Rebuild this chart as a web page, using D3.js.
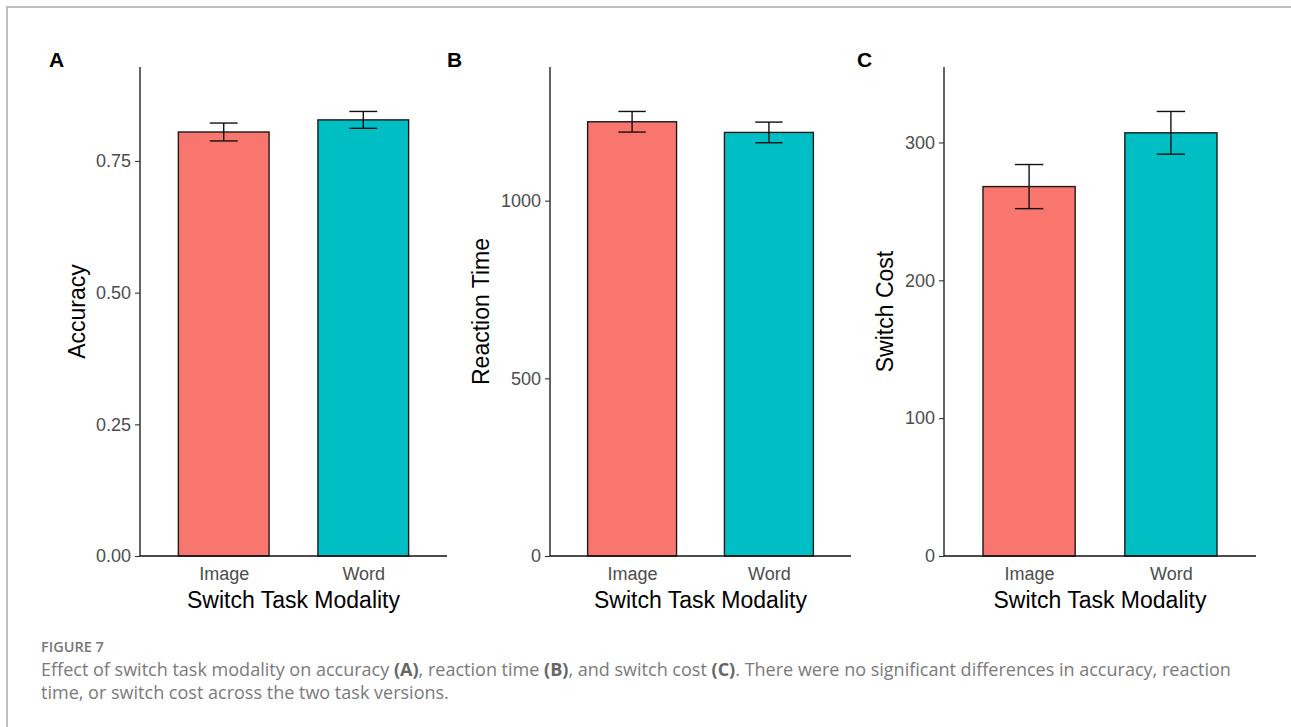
<!DOCTYPE html>
<html>
<head>
<meta charset="utf-8">
<script src="https://cdn.jsdelivr.net/npm/d3@7"></script>
<style>
  html, body { margin: 0; padding: 0; background: #fff; }
  svg { display: block; }
</style>
</head>
<body>
<svg id="fig" width="1291" height="727"></svg>
<script>
// Groups on the x axis
const categories = ["Image", "Word"];
const barColors = ["#F8766D", "#00BFC4"];

// Panel A: accuracy (mean and standard error)
const accuracyMean = [0.805, 0.828];
const accuracySE = [0.017, 0.016];
const accuracyTicks = [0, 0.25, 0.5, 0.75];

// Panel B: reaction time in ms
const rtMean = [1222, 1192];
const rtSE = [29, 29];
const rtTicks = [0, 500, 1000];

// Panel C: switch cost in ms
const costMean = [268, 307];
const costSE = [16, 15.5];
const costTicks = [0, 100, 200, 300];

const svg = d3.select("#fig");
const chartFont = "'Liberation Sans', Arial, sans-serif";
const captionFont = "'Open Sans', 'Noto Sans', sans-serif";

// frame around the figure
svg.append("path")
  .attr("d", "M7,727 V7 H1291")
  .attr("fill", "none")
  .attr("stroke", "#aaa")
  .attr("stroke-width", 1.5);

const panels = [
  { letter: "A", lx: 49, x0: 140, x1: 447, titleX: 77, yTitle: "Accuracy",
    mean: accuracyMean, se: accuracySE, ticks: accuracyTicks, fmt: d3.format(".2f") },
  { letter: "B", lx: 447, x0: 550, x1: 851, titleX: 481, yTitle: "Reaction Time",
    mean: rtMean, se: rtSE, ticks: rtTicks, fmt: d3.format("d") },
  { letter: "C", lx: 857, x0: 944, x1: 1256, titleX: 885, yTitle: "Switch Cost",
    mean: costMean, se: costSE, ticks: costTicks, fmt: d3.format("d") }
];

const yTop = 67, yBottom = 556;

panels.forEach(p => {
  const g = svg.append("g");
  const maxVal = d3.max(p.mean.map((m, i) => m + p.se[i]));
  const y = d3.scaleLinear().domain([0, maxVal * 1.1]).range([yBottom, yTop]);
  const x = d3.scalePoint().domain(categories).range([p.x0, p.x1]).padding(0.6);
  const step = x.step();
  const barW = step * 0.65;
  const whisk = step * 0.2;

  // bars
  g.selectAll("rect.bar").data(categories).join("rect")
    .attr("class", "bar")
    .attr("x", d => x(d) - barW / 2)
    .attr("width", barW)
    .attr("y", (d, i) => y(p.mean[i]))
    .attr("height", (d, i) => y(0) - y(p.mean[i]))
    .attr("fill", (d, i) => barColors[i])
    .attr("stroke", "#1a1a1a")
    .attr("stroke-width", 1.4);

  // error bars
  const eb = g.selectAll("g.err").data(categories).join("g").attr("class", "err")
    .attr("stroke", "#111").attr("stroke-width", 1.4).attr("fill", "none");
  eb.append("line")
    .attr("x1", d => x(d)).attr("x2", d => x(d))
    .attr("y1", (d, i) => y(p.mean[i] + p.se[i]))
    .attr("y2", (d, i) => y(p.mean[i] - p.se[i]));
  eb.append("line")
    .attr("x1", d => x(d) - whisk / 2).attr("x2", d => x(d) + whisk / 2)
    .attr("y1", (d, i) => y(p.mean[i] + p.se[i]))
    .attr("y2", (d, i) => y(p.mean[i] + p.se[i]));
  eb.append("line")
    .attr("x1", d => x(d) - whisk / 2).attr("x2", d => x(d) + whisk / 2)
    .attr("y1", (d, i) => y(p.mean[i] - p.se[i]))
    .attr("y2", (d, i) => y(p.mean[i] - p.se[i]));

  // y axis
  const yAxis = g.append("g")
    .attr("transform", `translate(${p.x0},0)`)
    .call(d3.axisLeft(y).tickValues(p.ticks).tickFormat(p.fmt).tickSize(5).tickPadding(4));
  yAxis.select(".domain").attr("stroke", "#111").attr("stroke-width", 1.3)
    .attr("d", `M0,${yTop}V${yBottom}`);
  yAxis.selectAll(".tick line").attr("stroke", "#333").attr("stroke-width", 1.1);
  yAxis.selectAll(".tick text").attr("fill", "#4d4d4d")
    .style("font-family", chartFont).style("font-size", "18px");

  // x axis
  const xAxis = g.append("g")
    .attr("transform", `translate(0,${yBottom})`)
    .call(d3.axisBottom(x).tickSize(0).tickPadding(11));
  xAxis.select(".domain").attr("stroke", "#111").attr("stroke-width", 1.3)
    .attr("d", `M${p.x0},0H${p.x1}`);
  xAxis.selectAll(".tick text").attr("fill", "#4d4d4d")
    .style("font-family", chartFont).style("font-size", "18px");

  // axis titles
  g.append("text")
    .attr("x", (p.x0 + p.x1) / 2).attr("y", 608)
    .attr("text-anchor", "middle")
    .style("font-family", chartFont).style("font-size", "23px")
    .attr("fill", "#000")
    .text("Switch Task Modality");

  g.append("text")
    .attr("transform", `translate(${p.titleX},${(yTop + yBottom) / 2}) rotate(-90)`)
    .attr("dy", "0.35em")
    .attr("text-anchor", "middle")
    .style("font-family", chartFont).style("font-size", "23px")
    .attr("fill", "#000")
    .text(p.yTitle);

  // panel letter
  g.append("text")
    .attr("x", p.lx).attr("y", 67)
    .style("font-family", chartFont).style("font-size", "21px")
    .style("font-weight", "bold")
    .attr("fill", "#000")
    .text(p.letter);
});

// caption
svg.append("text")
  .attr("x", 41).attr("y", 652)
  .style("font-family", captionFont).style("font-size", "14.5px")
  .style("font-weight", "600")
  .attr("fill", "#777")
  .text("FIGURE 7");

const line1 = [
  ["Effect of switch task modality on accuracy ", false],
  ["(A)", true], [", reaction time ", false], ["(B)", true],
  [", and switch cost ", false], ["(C)", true],
  [". There were no significant differences in accuracy, reaction", false]
];
const cap1 = svg.append("text")
  .attr("class", "caption")
  .attr("x", 41).attr("y", 676)
  .style("font-family", captionFont).style("font-size", "17.5px")
  .attr("fill", "#7a7a7a");
cap1.selectAll("tspan").data(line1).join("tspan")
  .style("font-weight", d => d[1] ? "700" : "400")
  .attr("fill", d => d[1] ? "#666" : "#7a7a7a")
  .text(d => d[0]);

svg.append("text")
  .attr("class", "caption")
  .attr("x", 41).attr("y", 699)
  .style("font-family", captionFont).style("font-size", "17.5px")
  .attr("fill", "#7a7a7a")
  .text("time, or switch cost across the two task versions.");

// fit caption width to the text block
const target = 1232 - 41;
const w = cap1.node().getComputedTextLength();
const fs = 17.5 * target / w;
svg.selectAll("text.caption").style("font-size", fs + "px");
</script>
</body>
</html>
